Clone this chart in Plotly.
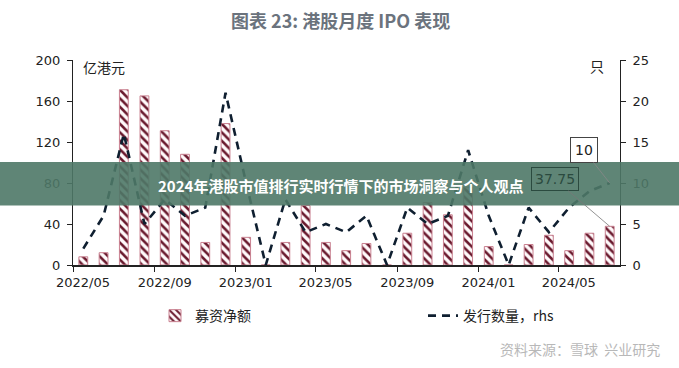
import pandas as pd
import plotly.graph_objects as go

months = ["2022-05", "2022-06", "2022-07", "2022-08", "2022-09", "2022-10", "2022-11", "2022-12",
          "2023-01", "2023-02", "2023-03", "2023-04", "2023-05", "2023-06", "2023-07", "2023-08",
          "2023-09", "2023-10", "2023-11", "2023-12", "2024-01", "2024-02", "2024-03", "2024-04",
          "2024-05", "2024-06", "2024-07"]
net_raised = [8, 12, 171, 165, 131, 108, 22, 138, 27, 0, 22, 58, 22, 14, 21, 0,
              31, 61, 49, 76, 18, 0, 20, 29, 14, 31, 37.75]
ipo_count = [2, 6, 16, 5, 8, 6, 7, 21, 10, 0, 8, 4, 5, 4, 6, 0,
             7, 5, 6, 14, 6, 0, 7, 4, 7, 9, 10]

bar_name = "募资净额"
line_name = "发行数量，rhs"
title_text = "图表 23: 港股月度 IPO 表现"
banner_text = "2024年港股市值排行实时行情下的市场洞察与个人观点"
left_unit = "亿港元"
right_unit = "只"
source_text = "资料来源：雪球  兴业研究"

num_font = "DejaVu Sans"
cjk_font = "Noto Sans CJK SC"

# middle of the last month (where the period-aligned marks sit)
last_p = pd.Period(months[-1], freq="M")
last_mid = last_p.start_time + (last_p.end_time - last_p.start_time) / 2

fig = go.Figure()
fig.add_trace(go.Bar(
    x=months, y=net_raised, name=bar_name, yaxis="y",
    xperiod="M1", xperiodalignment="middle",
    marker=dict(color="white", line=dict(color="#c98090", width=1),
                pattern=dict(shape="\\", fgcolor="#6a1a2e", bgcolor="#fffafb",
                             size=6, solidity=0.42, fillmode="replace")),
    legend="legend",
))
fig.add_trace(go.Scatter(
    x=months, y=ipo_count, name=line_name, yaxis="y2", mode="lines",
    xperiod="M1", xperiodalignment="middle",
    line=dict(color="#0f1f30", width=2.6, dash="8px,6px"),
    legend="legend2",
))

axis_common = dict(showgrid=False, zeroline=False, showline=True, linecolor="#222",
                   ticks="outside", ticklen=5, tickcolor="#222", automargin=False,
                   tickfont=dict(family=num_font, size=13, color="#222"))

fig.update_layout(
    width=679, height=368,
    margin=dict(l=73, r=59, t=60, b=103, autoexpand=False),
    paper_bgcolor="white", plot_bgcolor="white",
    bargap=0.55,
    showlegend=True,
    hovermode=False,
    xaxis=dict(type="date", range=["2022-05-01", "2024-08-01"],
               tick0="2022-05-01", dtick="M4", tickformat="%Y/%m",
               ticklabelshift=10, linewidth=1.5, **axis_common),
    yaxis=dict(range=[0, 200], dtick=40, linewidth=1, ticklabelstandoff=4, **axis_common),
    yaxis2=dict(range=[0, 25], dtick=5, overlaying="y", side="right", linewidth=1,
                ticklabelstandoff=4, **axis_common),
    legend=dict(orientation="h", x=(155 - 73) / 547, xanchor="left", y=-0.249, yanchor="middle",
                font=dict(family=cjk_font, size=14, color="#222"), bgcolor="rgba(0,0,0,0)"),
    legend2=dict(orientation="h", x=(423 - 73) / 547, xanchor="left", y=-0.249, yanchor="middle",
                 font=dict(family=cjk_font, size=14, color="#222"), bgcolor="rgba(0,0,0,0)"),
)

# banner overlay
fig.add_shape(type="rect", xref="paper", yref="paper",
              x0=-73 / 547 - 0.01, x1=1 + 59 / 547 + 0.01, y0=0.290, y1=0.5024,
              fillcolor="rgb(78,120,103)", opacity=0.9, line=dict(width=0), layer="above")

annotations = [
    dict(text=title_text, xref="paper", yref="paper", x=(340 - 73) / 547, y=(265 - 20) / 205,
         xanchor="center", yanchor="middle", showarrow=False,
         font=dict(family=cjk_font, size=18, color="#6b737d", weight="bold")),
    dict(text=left_unit, xref="paper", yref="paper", x=(81 - 73) / 547, y=(265 - 67) / 205,
         xanchor="left", yanchor="middle", showarrow=False,
         font=dict(family=cjk_font, size=14, color="#222")),
    dict(text=right_unit, xref="paper", yref="paper", x=(597 - 73) / 547, y=(265 - 66) / 205,
         xanchor="center", yanchor="middle", showarrow=False,
         font=dict(family=cjk_font, size=14, color="#222")),
    dict(text=banner_text, xref="paper", yref="paper", x=(340 - 73) / 547, y=(265 - 185) / 205,
         xanchor="center", yanchor="middle", showarrow=False,
         font=dict(family=cjk_font, size=15, color="white", weight="bold")),
    dict(text=str(ipo_count[-1]), x=last_mid, y=ipo_count[-1], xref="x", yref="y2",
         showarrow=True, arrowhead=0, arrowwidth=0.8, arrowcolor="#888",
         ax=-26, ay=-33, bordercolor="#444", borderwidth=1, borderpad=4, bgcolor="white",
         font=dict(family=num_font, size=14, color="#222")),
    dict(text=f"{net_raised[-1]:.2f}", x=last_mid, y=net_raised[-1], xref="x", yref="y",
         showarrow=True, arrowhead=0, arrowwidth=0.8, arrowcolor="#777",
         ax=-55, ay=-47, bordercolor="#2b4a3f", borderwidth=1, borderpad=3,
         font=dict(family=num_font, size=14, color="#2b4a3f")),
    dict(text=source_text, xref="paper", yref="paper", x=(662 - 73) / 547, y=(265 - 349) / 205,
         xanchor="right", yanchor="middle", showarrow=False,
         font=dict(family=cjk_font, size=14, color="#b8b8b8")),
]
fig.update_layout(annotations=annotations)

fig.write_html("out.html", config={"displayModeBar": False},
               post_script="document.body.style.margin='0';document.body.style.padding='0';")
